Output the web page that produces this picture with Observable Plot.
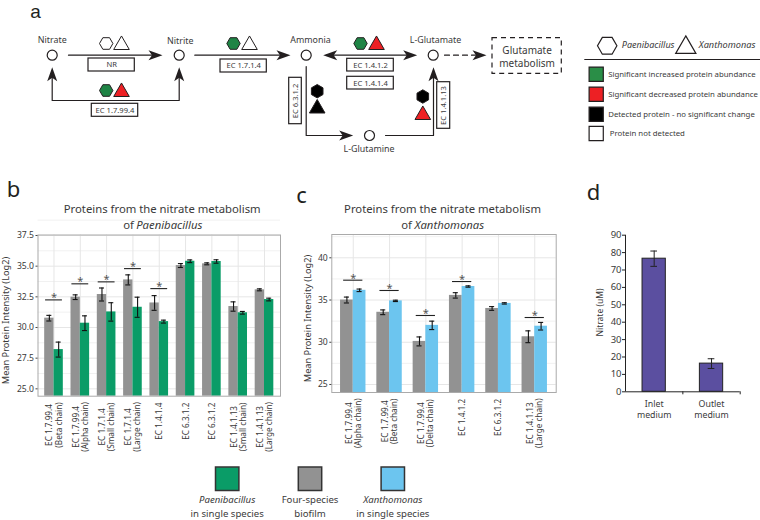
<!DOCTYPE html>
<html><head><meta charset="utf-8">
<script src="https://cdn.jsdelivr.net/npm/d3@7"></script>
<script src="https://cdn.jsdelivr.net/npm/@observablehq/plot@0.6"></script>
<style>
html,body{margin:0;padding:0;background:#fff}
#page{position:relative;width:760px;height:520px;overflow:hidden}
#page>*{position:absolute}
svg{overflow:visible}
</style></head><body><div id="page"></div>
<script>
// ---------- panel b ----------
const bLabels=["EC 1.7.99.4\n(Beta chain)","EC 1.7.99.4\n(Alpha chain)","EC 1.7.1.4\n(Small chain)","EC 1.7.1.4\n(Large chain)","EC 1.4.1.4","EC 6.3.1.2","EC 6.3.1.2","EC 1.4.1.13\n(Small chain)","EC 1.4.1.13\n(Large chain)"];
const bBiofilm=[30.76,32.47,32.69,33.88,32.0,35.05,35.19,31.71,33.07];
const bBiofilmErr=[0.23,0.19,0.53,0.41,0.6,0.16,0.08,0.38,0.08];
const bSingle=[28.2,30.35,31.27,31.65,30.48,35.4,35.38,31.2,32.28];
const bSingleErr=[0.61,0.6,0.75,0.82,0.12,0.11,0.14,0.11,0.11];
const bSigGroups=[0,1,2,3,4];
const bSigLevels=[32.25,33.56,33.72,34.8,33.17];
const bTicks=[25,27.5,30,32.5,35,37.5];
// ---------- panel c ----------
const cLabels=["EC 1.7.99.4\n(Alpha chain)","EC 1.7.99.4\n(Beta chain)","EC 1.7.99.4\n(Delta chain)","EC 1.4.1.2","EC 6.3.1.2","EC 1.4.1.13\n(Large chain)"];
const cBiofilm=[35.0,33.55,30.1,35.55,34.0,30.65];
const cBiofilmErr=[0.35,0.28,0.53,0.32,0.22,0.7];
const cSingle=[36.15,34.9,32.0,36.6,34.6,31.9];
const cSingleErr=[0.15,0.08,0.5,0.08,0.08,0.45];
const cSigGroups=[0,1,2,3,5];
const cSigLevels=[37.35,36.13,33.17,37.19,32.93];
const cTicks=[25,30,35,40];
// ---------- panel d ----------
const dLabels=["Inlet\nmedium","Outlet\nmedium"];
const dValues=[76.5,16.2];
const dErr=[4.4,2.8];
// ---------- panel a: pathway drawing ----------
const pathwayNodes=[["Nitrate",51.7,54.7,51.7,40],["Nitrite",178.7,54.7,179.7,40.5],["Ammonia",305.7,54.7,310,39.7],["L-Glutamate",432.7,54.7,435,40],["L-Glutamine",369,135,368.5,148.7]];
const pathwaySolid=[[[68,54.7],[158,54.7]],[[178.7,70],[178.7,100],[51.7,100],[51.7,70]],[[194.3,54.7],[286,54.7]],[[326,54.7],[413,54.7]],[[305.7,66],[305.7,135],[349,135]],[[385,135],[433,135],[433,70]]];
const pathwayDashed=[[[444,54.7],[482,54.7]]];
const pathwayHeads=[[162,54.7,0],[178.7,66.7,-90],[51.7,66.7,-90],[290,54.7,0],[322.7,54.7,180],[416.7,54.7,0],[352.7,135,0],[433,66.7,-90],[486,54.7,0]];
const enzymeBoxes=[["NR",88,134.3,58,71,0],["EC 1.7.1.4",220,266.3,59,72,0],["EC 1.7.99.4",91.3,137.7,103.3,116.3,0],["EC 1.4.1.2",346.7,393.3,58.3,71,0],["EC 1.4.1.4",346.7,393.3,76.3,89,0],["EC 6.3.1.2",288.7,301.3,77.3,123.7,-90],["EC 1.4.1.13",436.7,449.7,81.7,128.3,-90]];
const detectionGreen="#1f8445", detectionRed="#ed2024", detectionBlack="#000", detectionNone="#fff";
const hexagonMarks=[[105.7,43,detectionNone,90],[105.7,90,detectionGreen,90],[233,43,detectionGreen,90],[360,43,detectionGreen,90],[316.7,90.7,detectionBlack,0],[422.3,96,detectionBlack,0]];
const triangleMarks=[[121,44.5,detectionNone],[121,91.5,detectionRed],[249,44.5,detectionNone],[376,44.5,detectionRed],[316.7,108,detectionBlack],[422.3,114.5,detectionRed]];
const legendRows=[["Significant increased protein abundance",73.7,"#2a8e47",607.7],["Significant decreased protein abundance",93.7,detectionRed,607.7],["Detected protein - no significant change",113.7,detectionBlack,607.7],["Protein not detected",133,detectionNone,609.3]];
const seriesLegend=[["#0a9c67",226.7,"Paenibacillus","in single species",true],["#929292",309.5,"Four-species","biofilm",false],["#6cc5ef",392.3,"Xanthomonas","in single species",true]];

const font="'Noto Sans',sans-serif", ink="#231f20", textInk="#3a3a3a";
const page=document.getElementById("page");
const stealth={draw(c){c.moveTo(0,0);c.lineTo(-14,-5);c.lineTo(-10.5,0);c.lineTo(-14,5);c.closePath();}};
const xy=p=>({x:p[0],y:p[1]});

function place(svg,left,top){svg.style.left=left+"px";svg.style.top=top+"px";page.appendChild(svg);}

function pagePlot(){
  const solid=pathwaySolid.flatMap((l,id)=>l.map(p=>({...xy(p),id})));
  const dashed=pathwayDashed.flatMap((l,id)=>l.map(p=>({...xy(p),id})));
  const T=(data,o)=>Plot.text(data,{lineAnchor:"middle",fill:textInk,...o});
  return Plot.plot({width:760,height:520,margin:0,
    x:{domain:[0,760],range:[0,760],axis:null},y:{domain:[0,520],range:[0,520],axis:null},
    style:{fontFamily:font,background:"transparent"},
    marks:[
      Plot.line(solid,{x:"x",y:"y",z:"id",stroke:ink,strokeWidth:1.2}),
      Plot.line(dashed,{x:"x",y:"y",z:"id",stroke:ink,strokeWidth:1.2,strokeDasharray:"5,4"}),
      Plot.dot(pathwayHeads,{x:d=>d[0],y:d=>d[1],rotate:d=>d[2],symbol:stealth,r:5,fill:ink,stroke:"none"}),
      Plot.dot(pathwayNodes,{x:d=>d[1],y:d=>d[2],r:5,fill:"#fff",stroke:ink,strokeWidth:1.2}),
      T(pathwayNodes,{x:d=>d[3],y:d=>d[4],text:d=>d[0],fontSize:8.9}),
      Plot.rect(enzymeBoxes,{x1:d=>d[1],x2:d=>d[2],y1:d=>d[3],y2:d=>d[4],fill:"#fff",stroke:ink,strokeWidth:1.2}),
      T(enzymeBoxes.filter(d=>!d[5]),{x:d=>(d[1]+d[2])/2,y:d=>(d[3]+d[4])/2,text:d=>d[0],fontSize:7.6}),
      T(enzymeBoxes.filter(d=>d[5]),{x:d=>(d[1]+d[2])/2,y:d=>(d[3]+d[4])/2,text:d=>d[0],rotate:-90,fontSize:7.6}),
      Plot.dot(hexagonMarks,{x:d=>d[0],y:d=>d[1],fill:d=>d[2],rotate:d=>d[3],symbol:"hexagon",r:5.8,stroke:ink,strokeWidth:1}),
      Plot.dot(triangleMarks,{x:d=>d[0],y:d=>d[1],fill:d=>d[2],symbol:"triangle",r:5.8,stroke:ink,strokeWidth:1}),
      Plot.rect([0],{x1:492,x2:561.3,y1:37.7,y2:73.3,fill:"none",stroke:ink,strokeWidth:1.2,strokeDasharray:"5,4"}),
      T(["Glutamate\nmetabolism"],{x:526.6,y:55.5,text:d=>d,fontSize:10,lineHeight:1.3}),
      Plot.dot([0],{x:606.7,y:45.3,symbol:"hexagon",rotate:90,r:8.4,fill:"#fff",stroke:ink,strokeWidth:1.2}),
      Plot.dot([0],{x:685.3,y:47,symbol:"triangle",r:7.5,fill:"#fff",stroke:ink,strokeWidth:1.2}),
      T(["Paenibacillus"],{x:621.3,y:45,text:d=>d,textAnchor:"start",fontStyle:"italic",fontSize:9}),
      T(["Xanthomonas"],{x:698.3,y:45,text:d=>d,textAnchor:"start",fontStyle:"italic",fontSize:9.2}),
      Plot.ruleY([59],{x1:584.3,x2:760,stroke:ink,strokeWidth:1.2}),
      Plot.dot(legendRows,{x:595.7,y:d=>d[1],symbol:"square",r:8,fill:d=>d[2],stroke:ink,strokeWidth:1.2}),
      T(legendRows,{x:d=>d[3],y:d=>d[1],text:d=>d[0],textAnchor:"start",fontSize:7.8}),
      T(["a"],{x:35,y:11,text:d=>d,fontSize:19,fontFamily:"'Liberation Sans',sans-serif",fill:ink}),
      T(["b"],{x:13,y:189,text:d=>d,fontSize:22,fill:ink}),
      T(["c"],{x:301,y:195,text:d=>d,fontSize:22,fill:ink}),
      T(["d"],{x:593,y:192,text:d=>d,fontSize:22,fill:ink}),
      T(["Proteins from the nitrate metabolism"],{x:161.7,y:209,text:d=>d,fontSize:11.3}),
      T(["of"],{x:122.7,y:224.5,text:d=>d,fontSize:11.3,textAnchor:"start"}),
      T(["Paenibacillus"],{x:135.7,y:224.5,text:d=>d,fontSize:11.3,textAnchor:"start",fontStyle:"italic"}),
      T(["Proteins from the nitrate metabolism"],{x:442,y:209,text:d=>d,fontSize:11.3}),
      T(["of"],{x:400.7,y:224.5,text:d=>d,fontSize:11.3,textAnchor:"start"}),
      T(["Xanthomonas"],{x:414,y:224.5,text:d=>d,fontSize:11.3,textAnchor:"start",fontStyle:"italic"}),
      T(["Mean Protein Intensity (Log2)"],{x:6,y:320,text:d=>d,rotate:-90,fontSize:9.2}),
      T(["Mean Protein Intensity (Log2)"],{x:308,y:318,text:d=>d,rotate:-90,fontSize:9.2}),
      T(["Nitrate (uM)"],{x:600,y:312,text:d=>d,rotate:-90,fontSize:8.5}),
      Plot.dot(seriesLegend,{x:d=>d[1],y:478.3,symbol:"square",r:13.2,fill:d=>d[0],stroke:"#333",strokeWidth:1.5}),
      T(seriesLegend.filter(d=>d[4]),{x:d=>d[1],y:499.5,text:d=>d[2],fontSize:9.6,fontStyle:"italic"}),
      T(seriesLegend.filter(d=>!d[4]),{x:d=>d[1],y:499.5,text:d=>d[2],fontSize:9.6}),
      T(seriesLegend,{x:d=>d[1],y:513,text:d=>d[3],fontSize:9.6})
    ]});
}

function groupedChart(o){
  const rows=o.labels.map((label,i)=>({i,label,a:o.a[i],ae:o.ae[i],b:o.b[i],be:o.be[i]}));
  const sig=o.sigGroups.map((i,k)=>({i,level:o.sigLevels[k]}));
  const w=o.barW, base=o.yDomain[0], cap=o.capW, sp=o.sigSpan;
  const series=[{v:"a",e:"ae",off:-w/2,color:"#929292",x1:r=>r.i-w,x2:r=>r.i},{v:"b",e:"be",off:w/2,color:o.color,x1:r=>r.i,x2:r=>r.i+w}];
  const minor=[];for(const t of o.ticks){minor.push(t+o.minorStep);}
  const marks=[
    Plot.gridY(minor,{stroke:"#f1f1f1",strokeOpacity:1}),
    Plot.gridY(o.ticks,{stroke:"#e6e6e6",strokeOpacity:1}),
    Plot.gridX(rows.map(r=>r.i),{stroke:"#e6e6e6",strokeOpacity:1}),
    ...series.map(s=>Plot.rectY(rows,{x1:s.x1,x2:s.x2,y1:base,y2:s.v,fill:s.color})),
    ...series.flatMap(s=>[
      Plot.ruleX(rows,{x:r=>r.i+s.off,y1:r=>r[s.v]-r[s.e],y2:r=>r[s.v]+r[s.e],stroke:"#111",strokeWidth:1.1}),
      Plot.ruleY(rows,{y:r=>r[s.v]-r[s.e],x1:r=>r.i+s.off-cap,x2:r=>r.i+s.off+cap,stroke:"#111",strokeWidth:1.1}),
      Plot.ruleY(rows,{y:r=>r[s.v]+r[s.e],x1:r=>r.i+s.off-cap,x2:r=>r.i+s.off+cap,stroke:"#111",strokeWidth:1.1})
    ]),
    Plot.ruleY(sig,{y:"level",x1:d=>d.i-sp,x2:d=>d.i+sp,stroke:"#222",strokeWidth:1.1}),
    Plot.text(sig,{x:"i",y:"level",text:()=>"*",fontSize:11,dy:-2,fill:"#555"}),
    Plot.frame({stroke:"#aaa",strokeWidth:1}),
    Plot.axisY({ticks:o.ticks,tickFormat:o.tickFormat,tickSize:2,tickPadding:2,label:null,fontSize:8.6,stroke:"#444",fill:textInk}),
    ...rows.map(r=>Plot.text([r],{x:"i",text:"label",frameAnchor:"bottom",lineAnchor:"middle",rotate:-90,fontSize:8.2,lineHeight:1.12,fill:textInk,
      dy:6+Math.max(...r.label.split("\n").map(s=>s.length))*1.9}))
  ];
  return Plot.plot({width:o.width,height:o.height,marginLeft:o.mL,marginTop:o.mT,marginBottom:o.mB,marginRight:o.mR,
    x:{domain:o.xDomain,axis:null},y:{domain:o.yDomain,axis:null},
    style:{fontFamily:font,background:"transparent"},marks});
}

function nitrateChart(){
  const rows=dLabels.map((label,i)=>({i,label,v:dValues[i],e:dErr[i]}));
  const hw=0.203, cap=0.058;
  return Plot.plot({width:155,height:198.3,marginLeft:35,marginTop:6.7,marginRight:5.3,marginBottom:35,
    x:{domain:[0,2],axis:null},y:{domain:[0,90],axis:null},
    style:{fontFamily:font,background:"transparent"},
    marks:[
      Plot.rectY(rows,{x1:r=>r.i+.5-hw,x2:r=>r.i+.5+hw,y1:0,y2:"v",fill:"#5b4fa0",stroke:"#222",strokeWidth:1}),
      Plot.ruleX(rows,{x:r=>r.i+.5,y1:r=>r.v-r.e,y2:r=>r.v+r.e,stroke:"#222",strokeWidth:1}),
      Plot.ruleY(rows,{y:r=>r.v-r.e,x1:r=>r.i+.5-cap,x2:r=>r.i+.5+cap,stroke:"#222",strokeWidth:1}),
      Plot.ruleY(rows,{y:r=>r.v+r.e,x1:r=>r.i+.5-cap,x2:r=>r.i+.5+cap,stroke:"#222",strokeWidth:1}),
      Plot.ruleX([0],{stroke:"#222"}),Plot.ruleY([0],{stroke:"#222"}),
      Plot.axisY({ticks:d3.range(0,100,10),tickSize:3,tickPadding:1,label:null,fontSize:9.5,stroke:"#222",fill:textInk}),
      Plot.axisX({ticks:[1,2],tickSize:3,tickFormat:()=>"",label:null,stroke:"#222"}),
      Plot.text(rows,{x:r=>r.i+.5,text:"label",frameAnchor:"bottom",lineAnchor:"middle",dy:17,fontSize:8.8,lineHeight:1.25,fill:textInk})
    ]});
}

place(pagePlot(),0,0);
place(groupedChart({labels:bLabels,a:bBiofilm,ae:bBiofilmErr,b:bSingle,be:bSingleErr,sigGroups:bSigGroups,sigLevels:bSigLevels,color:"#0a9c67",
  ticks:bTicks,minorStep:1.25,tickFormat:d3.format(".1f"),yDomain:[24.4,37.54],xDomain:[-0.608,8.608],barW:0.354,capW:0.095,sigSpan:0.32,
  width:285,height:290,mL:37.5,mR:5,mT:4.5,mB:290-4.5-161.2}),0,230);
place(groupedChart({labels:cLabels,a:cBiofilm,ae:cBiofilmErr,b:cSingle,be:cSingleErr,sigGroups:cSigGroups,sigLevels:cSigLevels,color:"#6cc5ef",
  ticks:cTicks,minorStep:2.5,tickFormat:d3.format("d"),yDomain:[24.05,42.76],xDomain:[-0.591,5.591],barW:0.35,capW:0.07,sigSpan:0.265,
  width:260,height:290,mL:31.3,mR:4.3,mT:6,mB:290-6-158}),300,228);
place(nitrateChart(),590,228);
</script></body></html>
